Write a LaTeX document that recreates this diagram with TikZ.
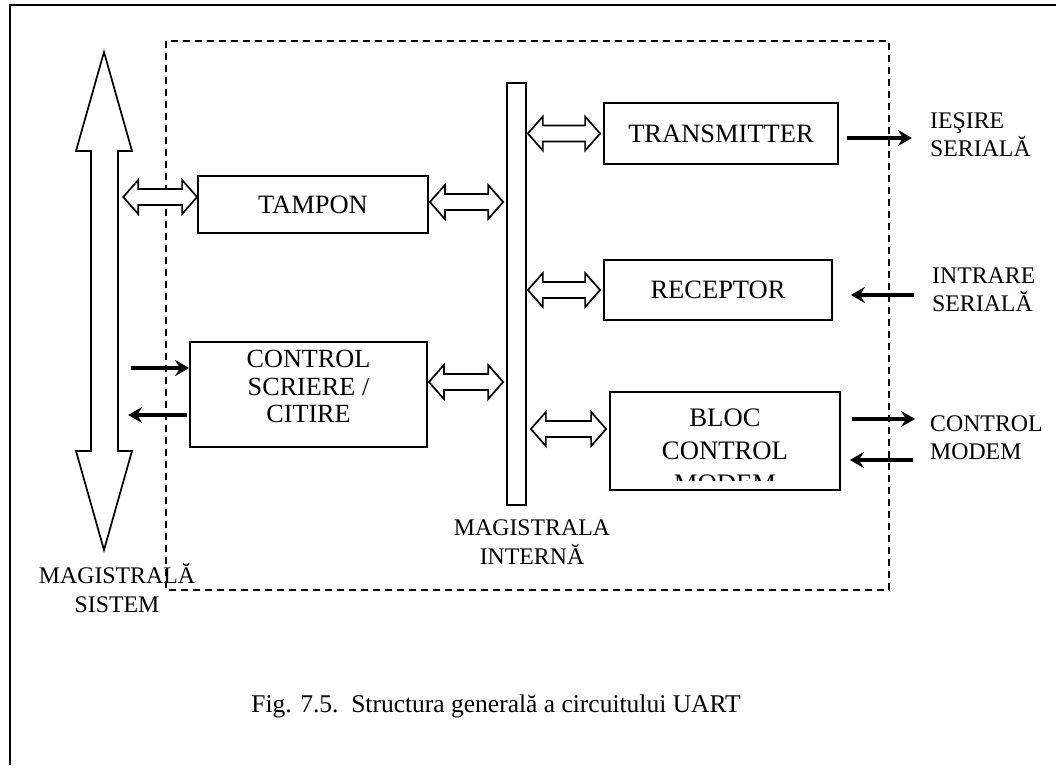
\documentclass[tikz,border=0pt]{standalone}
\usepackage{fontspec}
\setmainfont{Liberation Serif}
\usetikzlibrary{arrows.meta,calc}

% hollow double-headed bus link, horizontal, between two points (y taken from the first)
\newcommand\fatlink[2]{%
  \draw[fatline] let \p1=(#1), \p2=(#2) in
    (\x1,\y1) -- (\x1+15pt,\y1+17pt) -- (\x1+15pt,\y1+8pt) -- (\x2-15pt,\y1+8pt)
    -- (\x2-15pt,\y1+17pt) -- (\x2,\y1) -- (\x2-15pt,\y1-17pt) -- (\x2-15pt,\y1-8pt)
    -- (\x1+15pt,\y1-8pt) -- (\x1+15pt,\y1-17pt) -- cycle;}

\tikzset{
  fatline/.style={line width=1.7pt, line join=miter, fill=white},
  blk/.style={draw, line width=1.8pt, inner sep=0pt, font=\fontsize{26.5}{30}\selectfont},
  sig/.style={line width=3.6pt, -{Stealth[length=14pt,width=16pt,inset=5pt]}},
  lbl/.style={inner sep=0pt, align=left, font=\fontsize{23.8}{27.5}\selectfont},
  clbl/.style={inner sep=0pt, align=center, font=\fontsize{23.8}{28.5}\selectfont},
}

\begin{document}
\begin{tikzpicture}[x=1pt, y=-1pt]
\useasboundingbox (0,0) rectangle (1056,765);

% outer frame
\draw[line width=2pt] (9.5,765) -- (9.5,5) -- (1056,5);

% chip boundary
\draw[line width=1.7pt, dash pattern=on 7pt off 5pt] (166,41) rectangle (889,590);

% system bus
\node[inner sep=0pt, minimum width=27pt, minimum height=300pt] (sysbus) at (104.5,301) {};
\draw[fatline] (104,52) -- (132,151) -- (118,151) -- (118,451) -- (132,451) -- (104,550)
  -- (76,451) -- (91,451) -- (91,151) -- (76,151) -- cycle;

% internal bus
\node[draw, line width=1.7pt, inner sep=0pt, minimum width=19pt, minimum height=422pt] (ibus) at (516.5,294) {};

% functional blocks
\node[blk, minimum width=230pt, minimum height=57pt] (tampon) at (313,204.5) {TAMPON};
\node[blk, minimum width=237pt, minimum height=105pt] (ctrl) at (308.5,394.5) {};
\node[inner sep=0pt, align=center, font=\fontsize{26.2}{27.5}\selectfont] (ctrltxt) at (308.5,386.5) {CONTROL\\SCRIERE /\\CITIRE};
\node[blk, minimum width=234pt, minimum height=61pt] (tx) at (721,133.5) {TRANSMITTER};
\node[blk, minimum width=228pt, minimum height=60pt] (rx) at (718,290) {RECEPTOR};
\node[blk, minimum width=230pt, minimum height=98pt] (bloc) at (725,441) {};
\begin{scope}
  \clip (610,392) rectangle (840,480);
  \node[inner sep=0pt, align=center, font=\fontsize{26.7}{33}\selectfont] (bloctxt) at (725,451) {BLOC\\CONTROL\\MODEM};
\end{scope}

% bus links
\fatlink{$(sysbus.east |- tampon.west)+(5,-7.5)$}{tampon.west}
\fatlink{$(tampon.east)+(1,-2.5)$}{$(ibus.west |- tampon.east)+(-3,0)$}
\fatlink{$(ibus.east |- tx.west)+(1,0)$}{$(tx.west)+(-3,0)$}
\fatlink{$(ibus.east |- rx.west)+(1,0)$}{$(rx.west)+(-3,0)$}
\fatlink{$(ctrl.east)+(1,-12.5)$}{$(ibus.west |- ctrl.east)+(-3,0)$}
\fatlink{$(ibus.east |- bloc.west)+(4,-12)$}{$(bloc.west)+(-3,0)$}

% control lines to the system bus
\draw[sig] ($(sysbus.east |- ctrl.west)+(13,-26.5)$) -- ($(ctrl.west)+(0,-26.5)$);
\draw[sig] ($(ctrl.west)+(-2,20.5)$) -- ($(sysbus.east |- ctrl.west)+(10,20.5)$);

% serial and modem lines
\coordinate (txo) at (912,138);
\coordinate (rxi) at (914,295);
\coordinate (mdo) at (915,419);
\coordinate (mdi) at (913,460);
\draw[sig] ($(tx.east)+(8,4.5)$) -- (txo);
\draw[sig] (rxi) -- ($(rx.east)+(18,5)$);
\draw[sig] ($(bloc.east)+(11,-22)$) -- (mdo);
\draw[sig] (mdi) -- ($(bloc.east)+(9,19)$);

% labels
\node[lbl, anchor=north west] (lout) at (930,113) {IEŞIRE\\SERIALĂ};
\node[lbl, anchor=north west] (lin) at (932,268) {INTRARE\\SERIALĂ};
\node[lbl, anchor=north west] (lmod) at (930,416) {CONTROL\\MODEM};
\node[clbl] (lsys) at (117,588) {MAGISTRALĂ\\SISTEM};
\node[clbl] (lint) at (532,542) {MAGISTRALA\\INTERNĂ};

% caption
\node[inner sep=0pt, font=\fontsize{25.5}{30}\selectfont] (cap) at (496,706) {Fig. 7.5.\ \ Structura generală a circuitului UART};
\end{tikzpicture}
\end{document}
